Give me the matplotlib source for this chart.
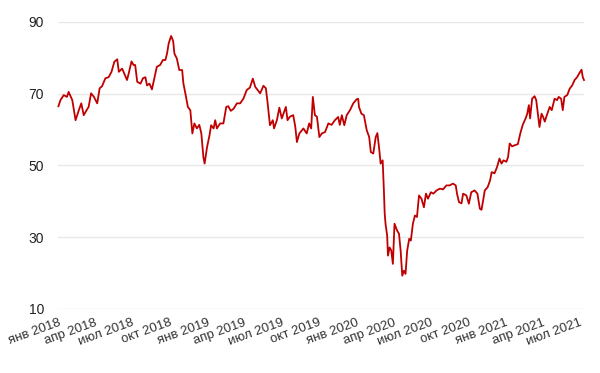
import matplotlib
matplotlib.use("Agg")
import matplotlib.pyplot as plt
import matplotlib.dates as mdates
import pandas as pd

dates = [
    "2018-01-02", "2018-01-07", "2018-01-15", "2018-01-23", "2018-01-27", "2018-02-05", "2018-02-13",
    "2018-02-21", "2018-02-27", "2018-03-05", "2018-03-12", "2018-03-17", "2018-03-23", "2018-03-30",
    "2018-04-07", "2018-04-13", "2018-04-19", "2018-04-27", "2018-05-05", "2018-05-12", "2018-05-19",
    "2018-05-26", "2018-05-30", "2018-06-07", "2018-06-13", "2018-06-19", "2018-06-23", "2018-06-30",
    "2018-07-05", "2018-07-09", "2018-07-14", "2018-07-22", "2018-07-28", "2018-08-03", "2018-08-07",
    "2018-08-13", "2018-08-19", "2018-08-25", "2018-08-31", "2018-09-08", "2018-09-15", "2018-09-21",
    "2018-09-25", "2018-09-29", "2018-10-05", "2018-10-10", "2018-10-13", "2018-10-19", "2018-10-25",
    "2018-11-01", "2018-11-04", "2018-11-09", "2018-11-15", "2018-11-21", "2018-11-26", "2018-12-01",
    "2018-12-07", "2018-12-13", "2018-12-18", "2018-12-23", "2018-12-26", "2019-01-01", "2019-01-07",
    "2019-01-11", "2019-01-17", "2019-01-21", "2019-01-25", "2019-02-02", "2019-02-10", "2019-02-17",
    "2019-02-22", "2019-02-28", "2019-03-07", "2019-03-15", "2019-03-23", "2019-03-31", "2019-04-08",
    "2019-04-16", "2019-04-23", "2019-04-29", "2019-05-05", "2019-05-11", "2019-05-19", "2019-05-25",
    "2019-05-29", "2019-06-04", "2019-06-11", "2019-06-14", "2019-06-21", "2019-06-27", "2019-07-03",
    "2019-07-09", "2019-07-13", "2019-07-17", "2019-07-23", "2019-07-31", "2019-08-05", "2019-08-09",
    "2019-08-15", "2019-08-25", "2019-09-02", "2019-09-08", "2019-09-13", "2019-09-17", "2019-09-22",
    "2019-09-27", "2019-10-03", "2019-10-09", "2019-10-17", "2019-10-25", "2019-11-02", "2019-11-10",
    "2019-11-18", "2019-11-22", "2019-11-27", "2019-12-03", "2019-12-09", "2019-12-17", "2019-12-25",
    "2020-01-02", "2020-01-06", "2020-01-08", "2020-01-14", "2020-01-20", "2020-01-27", "2020-02-02",
    "2020-02-06", "2020-02-12", "2020-02-18", "2020-02-22", "2020-02-26", "2020-03-01", "2020-03-06",
    "2020-03-09", "2020-03-11", "2020-03-13", "2020-03-17", "2020-03-19", "2020-03-23", "2020-03-27",
    "2020-03-31", "2020-04-04", "2020-04-10", "2020-04-15", "2020-04-19", "2020-04-23", "2020-04-27",
    "2020-05-01", "2020-05-05", "2020-05-10", "2020-05-14", "2020-05-19", "2020-05-24", "2020-05-29",
    "2020-06-03", "2020-06-09", "2020-06-15", "2020-06-20", "2020-06-25", "2020-07-02", "2020-07-08",
    "2020-07-16", "2020-07-24", "2020-08-01", "2020-08-09", "2020-08-17", "2020-08-25", "2020-09-01",
    "2020-09-04", "2020-09-09", "2020-09-15", "2020-09-19", "2020-09-27", "2020-10-03", "2020-10-09",
    "2020-10-17", "2020-10-24", "2020-10-30", "2020-11-03", "2020-11-07", "2020-11-11", "2020-11-18",
    "2020-11-24", "2020-11-28", "2020-12-05", "2020-12-11", "2020-12-17", "2020-12-22", "2020-12-27",
    "2021-01-03", "2021-01-07", "2021-01-11", "2021-01-17", "2021-01-23", "2021-01-31", "2021-02-06",
    "2021-02-12", "2021-02-19", "2021-02-23", "2021-02-27", "2021-03-02", "2021-03-07", "2021-03-13",
    "2021-03-17", "2021-03-22", "2021-03-25", "2021-03-30", "2021-04-03", "2021-04-07", "2021-04-12",
    "2021-04-19", "2021-04-24", "2021-05-01", "2021-05-07", "2021-05-11", "2021-05-17", "2021-05-21",
    "2021-05-25", "2021-06-01", "2021-06-07", "2021-06-13", "2021-06-19", "2021-06-25", "2021-06-30",
    "2021-07-06", "2021-07-09", "2021-07-12",
]

prices = [
    66.5, 68.2, 69.6, 69.1, 70.5, 68.2, 62.6,
    65.4, 67.3, 64.0, 65.4, 66.3, 70.1, 69.1,
    67.3, 71.5, 72.1, 74.3, 74.6, 76.1, 78.9,
    79.6, 76.1, 77.0, 75.4, 73.8, 75.6, 79.0,
    78.0, 78.0, 73.3, 72.8, 74.3, 74.6, 72.3,
    72.8, 71.2, 74.3, 77.5, 78.0, 79.4, 79.4,
    81.2, 84.0, 86.1, 84.7, 81.2, 79.8, 76.6,
    76.6, 72.9, 70.0, 66.3, 65.4, 58.9, 61.7,
    60.3, 61.3, 58.9, 52.3, 50.5, 55.1, 58.4,
    61.2, 60.3, 62.6, 60.3, 61.7, 61.7, 66.3,
    66.5, 65.2, 65.8, 67.3, 67.3, 68.6, 71.0,
    71.7, 74.2, 71.9, 71.0, 70.1, 72.2, 71.5,
    67.7, 61.2, 62.6, 60.3, 62.6, 66.1, 63.1,
    65.0, 66.3, 62.6, 63.6, 64.0, 60.8, 56.5,
    58.9, 60.3, 58.9, 61.7, 60.3, 69.1, 64.0,
    63.6, 57.9, 58.9, 59.3, 61.7, 61.3, 62.6,
    63.5, 61.3, 64.0, 61.2, 64.0, 65.4, 67.3,
    68.4, 68.6, 66.3, 64.4, 64.0, 59.8, 57.9,
    53.7, 53.3, 57.9, 59.0, 55.1, 50.5, 51.4,
    43.0, 36.5, 33.7, 30.4, 24.8, 27.1, 26.3,
    22.5, 33.7, 31.9, 30.9, 26.2, 19.2, 20.6,
    19.7, 26.2, 29.5, 29.0, 33.7, 36.0, 35.6,
    41.6, 40.7, 38.3, 42.1, 40.7, 42.5, 42.1,
    43.0, 43.5, 43.3, 44.4, 44.4, 44.9, 44.4,
    42.1, 39.7, 39.4, 42.1, 41.6, 39.3, 42.5,
    43.0, 42.1, 37.9, 37.6, 40.2, 43.0, 43.9,
    45.8, 48.1, 47.8, 49.5, 51.9, 50.5, 51.4,
    51.0, 52.3, 56.1, 55.3, 55.6, 55.9, 58.9,
    61.3, 63.1, 64.4, 66.8, 63.1, 68.6, 69.3,
    68.2, 63.5, 60.7, 64.4, 63.5, 62.2, 64.0,
    66.3, 65.4, 68.6, 68.2, 69.1, 68.6, 65.4,
    69.1, 69.6, 71.4, 72.3, 73.8, 74.6, 75.6,
    76.7, 74.6, 73.8,
]

tick_dates = ["2018-01-01", "2018-04-01", "2018-07-01", "2018-10-01",
              "2019-01-01", "2019-04-01", "2019-07-01", "2019-10-01",
              "2020-01-01", "2020-04-01", "2020-07-01", "2020-10-01",
              "2021-01-01", "2021-04-01", "2021-07-01"]
tick_labels = ["янв 2018", "апр 2018", "июл 2018", "окт 2018",
               "янв 2019", "апр 2019", "июл 2019", "окт 2019",
               "янв 2020", "апр 2020", "июл 2020", "окт 2020",
               "янв 2021", "апр 2021", "июл 2021"]
y_ticks = [10, 30, 50, 70, 90]

plt.rcParams['font.family'] = ['Liberation Sans', 'DejaVu Sans']

fig = plt.figure(figsize=(6.0, 3.73), dpi=100)
ax = fig.add_axes([58/600, 1 - 308.7/373, (584 - 58)/600, (308.7 - 22)/373])

x = pd.to_datetime(dates)
ax.plot(x, prices, color="#c00000", linewidth=1.3, solid_joinstyle="round", clip_on=False, zorder=3)

ax.set_xlim(pd.Timestamp(dates[0]), pd.Timestamp(dates[-1]))
ax.set_ylim(10, 90)
ax.set_yticks(y_ticks)
ax.set_yticklabels([str(v) for v in y_ticks], fontsize=10, color="#222222")
ax.set_xticks(pd.to_datetime(tick_dates))
ax.set_xticklabels(tick_labels, fontsize=9.5, color="#333333", rotation=20,
                   ha="right", rotation_mode="anchor")

ax.grid(axis="y", color="#e8e8e8", linewidth=1.0, zorder=0)
ax.grid(axis="x", visible=False)
ax.tick_params(axis="both", length=0)
ax.tick_params(axis="y", pad=10)
ax.tick_params(axis="x", pad=6)
for s in ax.spines.values():
    s.set_visible(False)

fig.savefig("out.png", dpi=100)
